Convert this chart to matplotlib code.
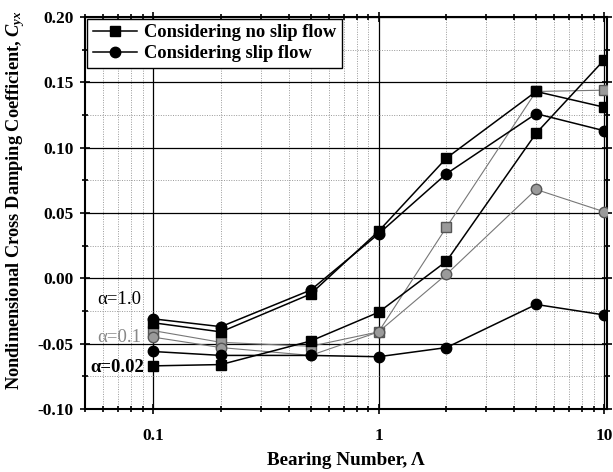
import matplotlib
matplotlib.use("Agg")
import matplotlib.pyplot as plt
from matplotlib.ticker import FixedLocator, LogLocator, NullFormatter, MultipleLocator, FormatStrFormatter

plt.rcParams['font.family'] = ['Liberation Serif', 'DejaVu Serif']
plt.rcParams['font.weight'] = 'bold'
plt.rcParams['mathtext.fontset'] = 'custom'
plt.rcParams['mathtext.rm'] = 'Liberation Serif:bold'
plt.rcParams['mathtext.it'] = 'Liberation Serif:italic:bold'
plt.rcParams['mathtext.bf'] = 'Liberation Serif:bold'

bearing = [0.1, 0.2, 0.5, 1, 2, 5, 10]

a10_noslip = [-0.034, -0.041, -0.012, 0.036, 0.092, 0.143, 0.131]
a10_slip = [-0.031, -0.037, -0.009, 0.034, 0.080, 0.126, 0.113]
a01_noslip = [-0.040, -0.049, -0.052, -0.041, 0.039, 0.143, 0.144]
a01_slip = [-0.045, -0.053, -0.059, -0.041, 0.003, 0.068, 0.051]
a002_noslip = [-0.067, -0.066, -0.048, -0.026, 0.013, 0.111, 0.167]
a002_slip = [-0.056, -0.059, -0.059, -0.060, -0.053, -0.020, -0.028]

legend_labels = ['Considering no slip flow', 'Considering slip flow']
alpha_labels = ['α=1.0', 'α=0.1', 'α=0.02']

fig = plt.figure(figsize=(6.13, 4.72), dpi=100)
ax = fig.add_axes([0.139, 0.1335, 0.851, 0.8305])

blk = 'black'
gry = '#777777'
ms_sq = 6.5
ms_ci = 7.5

ax.plot(bearing, a01_noslip, color=gry, lw=0.8, marker='s', ms=ms_sq, mfc='#9a9a9a', mec='#555555', zorder=3)
ax.plot(bearing, a01_slip, color=gry, lw=0.8, marker='o', ms=ms_ci, mfc='#9a9a9a', mec='#555555', zorder=3)
l1, = ax.plot(bearing, a10_noslip, color=blk, lw=1.1, marker='s', ms=ms_sq, zorder=4)
l2, = ax.plot(bearing, a10_slip, color=blk, lw=1.1, marker='o', ms=ms_ci, zorder=4)
ax.plot(bearing, a002_noslip, color=blk, lw=1.1, marker='s', ms=ms_sq, zorder=4)
ax.plot(bearing, a002_slip, color=blk, lw=1.1, marker='o', ms=ms_ci, zorder=4)

ax.set_xscale('log')
ax.set_xlim(0.05, 10.3)
ax.set_ylim(-0.10, 0.20)

ax.xaxis.set_major_locator(FixedLocator([0.1, 1, 10]))
ax.set_xticklabels(['0.1', '1', '10'])
ax.xaxis.set_minor_locator(LogLocator(base=10, subs=[2, 3, 4, 5, 6, 7, 8, 9]))
ax.xaxis.set_minor_formatter(NullFormatter())
ax.yaxis.set_major_locator(MultipleLocator(0.05))
ax.yaxis.set_major_formatter(FormatStrFormatter('%.2f'))
ax.yaxis.set_minor_locator(MultipleLocator(0.025))

ax.grid(which='major', color='black', lw=0.9, ls='-', zorder=1)
ax.grid(which='minor', color='#999999', lw=0.7, ls=(0, (1, 1.5)), zorder=1)
ax.set_axisbelow(True)

ax.tick_params(which='both', direction='inout', top=True, right=True, width=1.2, labelsize=12.5)
ax.tick_params(which='major', length=7)
ax.tick_params(which='minor', length=5)
ax.tick_params(axis='x', which='major', pad=10)
ax.tick_params(axis='y', which='major', pad=5)
for s in ax.spines.values():
    s.set_linewidth(1.5)

ax.set_xlabel('Bearing Number, Λ', fontsize=13.8, fontweight='bold', labelpad=6)
ax.set_ylabel('Nondimensional Cross Damping Coefficient, $\\mathit{C}_{yx}$', fontsize=13.2, fontweight='bold')
ax.yaxis.set_label_coords(-0.111, 0.533)

leg = ax.legend([l1, l2], legend_labels, loc='upper left', fontsize=13.3, frameon=True, fancybox=False,
                edgecolor='black', framealpha=1, borderpad=0.3, handlelength=2.4, handletextpad=0.4,
                labelspacing=0.2, borderaxespad=0.1)
leg.get_frame().set_linewidth(1.0)

ax.text(0.0564, -0.016, alpha_labels[0], fontsize=13.5, fontweight='normal', color='black', ha='left', va='center')
ax.text(0.0564, -0.045, alpha_labels[1], fontsize=13.5, fontweight='normal', color='#888888', ha='left', va='center')
ax.text(0.0525, -0.068, alpha_labels[2], fontsize=13.5, fontweight='bold', color='black', ha='left', va='center')

fig.savefig('out.png', dpi=100)
